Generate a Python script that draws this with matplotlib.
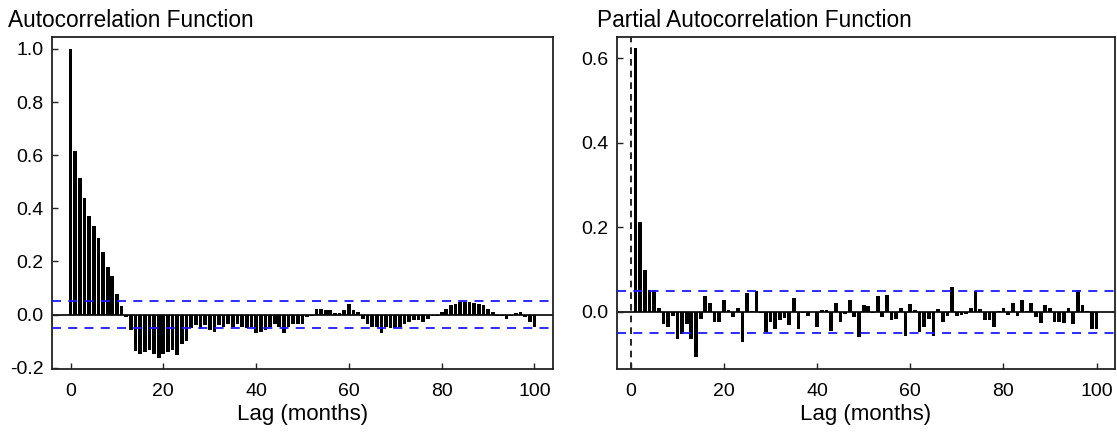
import numpy as np
import matplotlib
matplotlib.use("Agg")
from matplotlib import pyplot as plt

plt.rcParams['font.family'] = ['Liberation Sans', 'DejaVu Sans']
plt.rcParams['axes.unicode_minus'] = False

# ACF, lags 0..100 (months)
acf_lags = np.arange(0, 101)
acf_values = [
    1.0, 0.614, 0.514, 0.44, 0.37, 0.332, 0.29, 0.234, 0.178, 0.147,
    0.078, 0.034, -0.009, -0.06, -0.138, -0.147, -0.14, -0.135, -0.15, -0.163,
    -0.15, -0.14, -0.134, -0.152, -0.11, -0.1, -0.052, -0.04, -0.055, -0.04,
    -0.058, -0.065, -0.04, -0.047, -0.034, -0.047, -0.034, -0.047, -0.05, -0.047,
    -0.071, -0.065, -0.059, -0.047, -0.034, -0.047, -0.071, -0.047, -0.034, -0.034,
    -0.034, -0.01, -0.004, 0.022, 0.022, 0.019, 0.016, 0.004, 0.004, 0.019,
    0.039, 0.016, 0.01, -0.015, -0.034, -0.046, -0.046, -0.071, -0.046, -0.052,
    -0.052, -0.046, -0.034, -0.028, -0.021, -0.019, -0.028, -0.015, -0.006, -0.004,
    0.01, 0.022, 0.035, 0.04, 0.047, 0.047, 0.047, 0.044, 0.039, 0.035,
    0.022, 0.01, -0.006, -0.004, -0.015, -0.006, 0.006, 0.01, -0.009, -0.028,
    -0.046,
]

# PACF, lags 1..100 (months)
pacf_lags = np.arange(1, 101)
pacf_values = [
    0.623, 0.2125, 0.0996, 0.052, 0.052, 0.009, -0.028, -0.036, -0.009, -0.064,
    -0.052, -0.028, -0.064, -0.107, -0.016, 0.038, 0.021, -0.024, -0.024, 0.027,
    0.005, -0.013, 0.009, -0.071, 0.045, 0.003, 0.05, -0.003, -0.048, -0.025,
    -0.04, -0.02, -0.015, -0.032, 0.032, -0.04, -0.003, -0.01, 0.0, -0.036,
    0.005, 0.005, -0.046, 0.021, -0.024, -0.005, 0.029, -0.012, -0.06, 0.016,
    0.014, -0.002, 0.037, -0.013, 0.041, -0.02, -0.017, 0.009, -0.056, 0.019,
    0.005, -0.047, -0.036, -0.016, -0.057, 0.008, -0.024, -0.01, 0.06, -0.009,
    -0.008, -0.005, 0.009, 0.05, 0.006, -0.018, -0.018, -0.036, 0.003, 0.009,
    -0.007, 0.021, -0.009, 0.029, 0.003, 0.021, -0.011, -0.026, 0.016, 0.009,
    -0.024, -0.024, -0.026, 0.009, -0.028, 0.052, 0.016, 0.003, -0.04, -0.04,
]

conf_limit = 0.05
acf_yticks = [-0.2, 0.0, 0.2, 0.4, 0.6, 0.8, 1.0]
pacf_yticks = [0.0, 0.2, 0.4, 0.6]
xticks = [0, 20, 40, 60, 80, 100]

W, H = 1117, 432
fig = plt.figure(figsize=(W / 100, H / 100), dpi=100)


def px_axes(x0, y0, x1, y1):
    return fig.add_axes([x0 / W, 1 - y1 / H, (x1 - x0) / W, (y1 - y0) / H])


def style_axes(ax, yticks):
    for sp in ax.spines.values():
        sp.set_color("#222222")
        sp.set_linewidth(1.3)
    ax.set_xticks(xticks)
    ax.set_yticks(yticks)
    ax.set_yticklabels([f"{t:.1f}" for t in yticks])
    ax.tick_params(direction="in", length=4, width=1, color="#222222",
                   labelsize=14, pad=6)
    ax.tick_params(axis="x", pad=10)
    ax.set_xlabel("Lag (months)", fontsize=16, labelpad=3)
    ax.axhline(0, color="black", lw=1.2, zorder=1)
    for c in (conf_limit, -conf_limit):
        ax.axhline(c, color="#1a1aff", lw=1.3, ls=(0, (5, 4)), zorder=3)


ax1 = px_axes(52, 37, 553, 369)
ax1.bar(acf_lags, acf_values, width=0.8, color="black", zorder=2)
ax1.set_xlim(-4, 104)
ax1.set_ylim(-0.205, 1.045)
style_axes(ax1, acf_yticks)

ax2 = px_axes(617, 37, 1115, 369)
ax2.bar(pacf_lags, pacf_values, width=0.8, color="black", zorder=2)
ax2.axvline(0, color="black", lw=1.2, ls=(0, (4, 3)), zorder=1)
ax2.set_xlim(-2.96, 103.96)
ax2.set_ylim(-0.135, 0.65)
style_axes(ax2, pacf_yticks)

fig.text(8 / W, 1 - 27 / H, "Autocorrelation Function", fontsize=16.3, ha="left", va="baseline")
fig.text(597 / W, 1 - 27 / H, "Partial Autocorrelation Function", fontsize=16.3, ha="left", va="baseline")

fig.savefig("out.png", dpi=100)
